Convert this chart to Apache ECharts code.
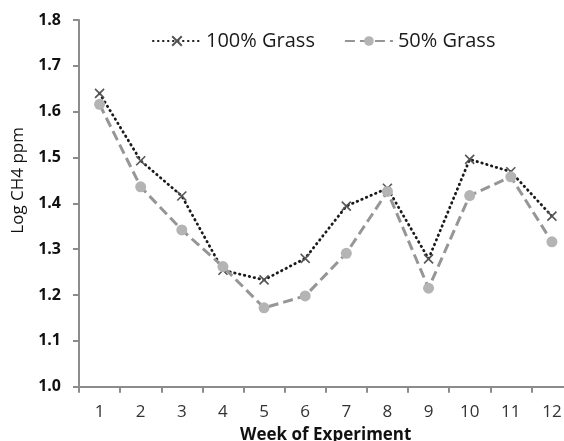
<!DOCTYPE html>
<html><head><meta charset="utf-8">
<script src="https://cdn.jsdelivr.net/npm/echarts@6/dist/echarts.min.js"></script>
<style>html,body{margin:0;padding:0;background:#fff}#c{width:564px;height:441px}</style>
</head><body><div id="c"></div>
<script>
const weeks = ['1','2','3','4','5','6','7','8','9','10','11','12'];
const grass100 = [1.640, 1.493, 1.416, 1.254, 1.233, 1.280, 1.394, 1.433, 1.279, 1.496, 1.469, 1.372];
const grass50 = [1.616, 1.436, 1.342, 1.262, 1.172, 1.198, 1.291, 1.426, 1.215, 1.417, 1.458, 1.316];
const yTicks = {min: 1.0, max: 1.8, interval: 0.1};

const chart = echarts.init(document.getElementById('c'), null, {renderer: 'canvas'});
const crossPath = 'path://M0,0L10,10M10,0L0,10';
chart.setOption({
  animation: false,
  grid: {left: 79, right: -8.5, top: 20, bottom: 54.3, outerBoundsMode: 'none', containLabel: false},
  legend: {
    top: 26, left: 147, itemGap: 29, itemWidth: 48, itemHeight: 12,
    textStyle: {fontFamily: 'Open Sans', fontSize: 20, color: '#1a1a1a'},
    data: ['100% Grass', '50% Grass']
  },
  xAxis: {
    type: 'category', data: weeks, boundaryGap: true,
    axisLine: {lineStyle: {color: '#8c8c8c', width: 2}},
    axisTick: {show: true, length: 6, lineStyle: {color: '#8c8c8c', width: 2}},
    axisLabel: {color: '#333', fontFamily: 'Open Sans', fontSize: 17, margin: 17},
    name: 'Week of Experiment', nameLocation: 'middle', nameGap: 40,
    nameTextStyle: {color: '#111', fontFamily: 'Open Sans', fontSize: 17, fontWeight: 'bold'}
  },
  yAxis: {
    type: 'value', min: yTicks.min, max: yTicks.max, interval: yTicks.interval,
    splitLine: {show: false},
    axisLine: {show: true, lineStyle: {color: '#8c8c8c', width: 2}},
    axisTick: {show: true, length: 6, lineStyle: {color: '#8c8c8c', width: 2}},
    axisLabel: {color: '#111', fontFamily: 'Open Sans', fontSize: 16, fontWeight: 'bold', margin: 18,
      formatter: v => v.toFixed(1)},
    name: 'Log CH4 ppm', nameLocation: 'middle', nameGap: 52, nameRotate: 90,
    nameTextStyle: {color: '#111', fontFamily: 'Open Sans', fontSize: 17, padding: [0, 0, 0, 46]}
  },
  series: [
    {
      name: '100% Grass', type: 'line', data: grass100,
      symbol: crossPath, symbolSize: 9,
      lineStyle: {color: '#1a1a1a', width: 2.8, type: [0.5, 4.5], cap: 'round'},
      itemStyle: {color: 'none', borderColor: '#555', borderWidth: 1.6}
    },
    {
      name: '50% Grass', type: 'line', data: grass50,
      symbol: 'circle', symbolSize: 11,
      lineStyle: {color: '#969696', width: 3, type: [10, 5]},
      itemStyle: {color: '#b4b4b4', borderWidth: 0}
    }
  ]
});
</script></body></html>
